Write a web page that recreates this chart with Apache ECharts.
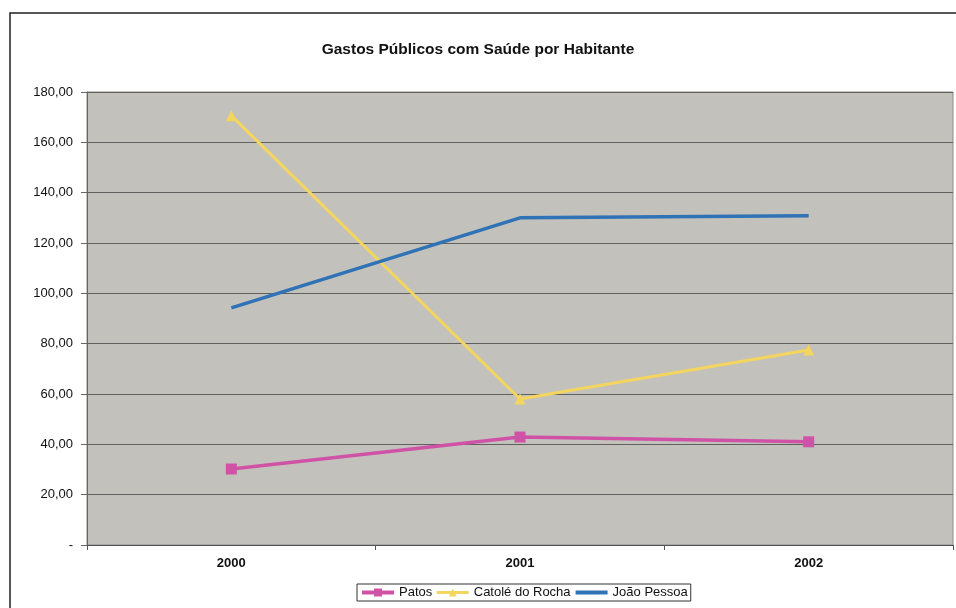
<!DOCTYPE html>
<html><head><meta charset="utf-8">
<script src="https://cdn.jsdelivr.net/npm/echarts@6/dist/echarts.min.js"></script>
<style>html,body{margin:0;padding:0;background:#fff}#c{width:956px;height:608px}</style>
</head><body><div id="c"></div>
<script>
const titleText = 'Gastos Públicos com Saúde por Habitante';
const categories = ['2000', '2001', '2002'];
const patos = [30.2, 42.9, 41.0];
const catole = [170.6, 58.0, 77.5];
const joaoPessoa = [94.2, 130.0, 130.8];
const seriesNames = ['Patos', 'Catolé do Rocha', 'João Pessoa'];
const yTickLabels = ['-', '20,00', '40,00', '60,00', '80,00', '100,00', '120,00', '140,00', '160,00', '180,00'];

const chart = echarts.init(document.getElementById('c'), null, {renderer: 'canvas'});
const font = "'Liberation Sans', Arial, sans-serif";
chart.setOption({
  backgroundColor: '#ffffff',
  animation: false,
  title: {
    text: titleText, left: 'center', top: 37,
    textStyle: {fontFamily: font, fontSize: 15.5, fontWeight: 'bold', color: '#111'}
  },
  graphic: [{
    type: 'rect', shape: {x: 10, y: 13, width: 960, height: 620},
    style: {fill: 'none', stroke: '#222', lineWidth: 1.5}, silent: true, z: -1
  }],
  legend: {
    top: 584, left: 357,
    data: [
      {name: seriesNames[0], lineStyle: {width: 4}},
      {name: seriesNames[1], lineStyle: {width: 3}},
      {name: seriesNames[2], lineStyle: {width: 4}, itemStyle: {opacity: 0}}
    ],
    itemWidth: 32, itemHeight: 10, itemGap: 3,
    borderColor: '#333', borderWidth: 1, padding: [2, 3],
    textStyle: {fontFamily: font, fontSize: 13, color: '#111'}
  },
  grid: {
    left: 87, right: 3, top: 92, bottom: 63, show: true,
    backgroundColor: '#c3c1bc', borderColor: '#8a8a8a', borderWidth: 1
  },
  xAxis: {
    type: 'category', data: categories, boundaryGap: true,
    axisLine: {lineStyle: {color: '#555', width: 1}},
    axisTick: {show: true, length: 5, lineStyle: {color: '#555'}},
    axisLabel: {margin: 12, fontFamily: font, fontSize: 13, fontWeight: 'bold', color: '#111'}
  },
  yAxis: {
    type: 'value', min: 0, max: 180, interval: 20,
    axisLine: {show: true, lineStyle: {color: '#666'}},
    axisTick: {show: true, length: 6, lineStyle: {color: '#666'}},
    splitLine: {lineStyle: {color: '#606060', width: 1}},
    axisLabel: {
      margin: 14, fontFamily: font, fontSize: 13, color: '#111',
      formatter: (v) => yTickLabels[Math.round(v / 20)]
    }
  },
  series: [
    {name: seriesNames[0], type: 'line', data: patos,
     symbol: 'rect', symbolSize: 11,
     lineStyle: {color: '#d052a6', width: 3.5}, itemStyle: {color: '#d052a6'}},
    {name: seriesNames[1], type: 'line', data: catole,
     symbol: 'triangle', symbolSize: 11,
     lineStyle: {color: '#f4d55e', width: 3}, itemStyle: {color: '#f4d55e'}},
    {name: seriesNames[2], type: 'line', data: joaoPessoa,
     symbol: 'none',
     lineStyle: {color: '#2f72b6', width: 3.5}, itemStyle: {color: '#2f72b6'}}
  ]
});
</script></body></html>
